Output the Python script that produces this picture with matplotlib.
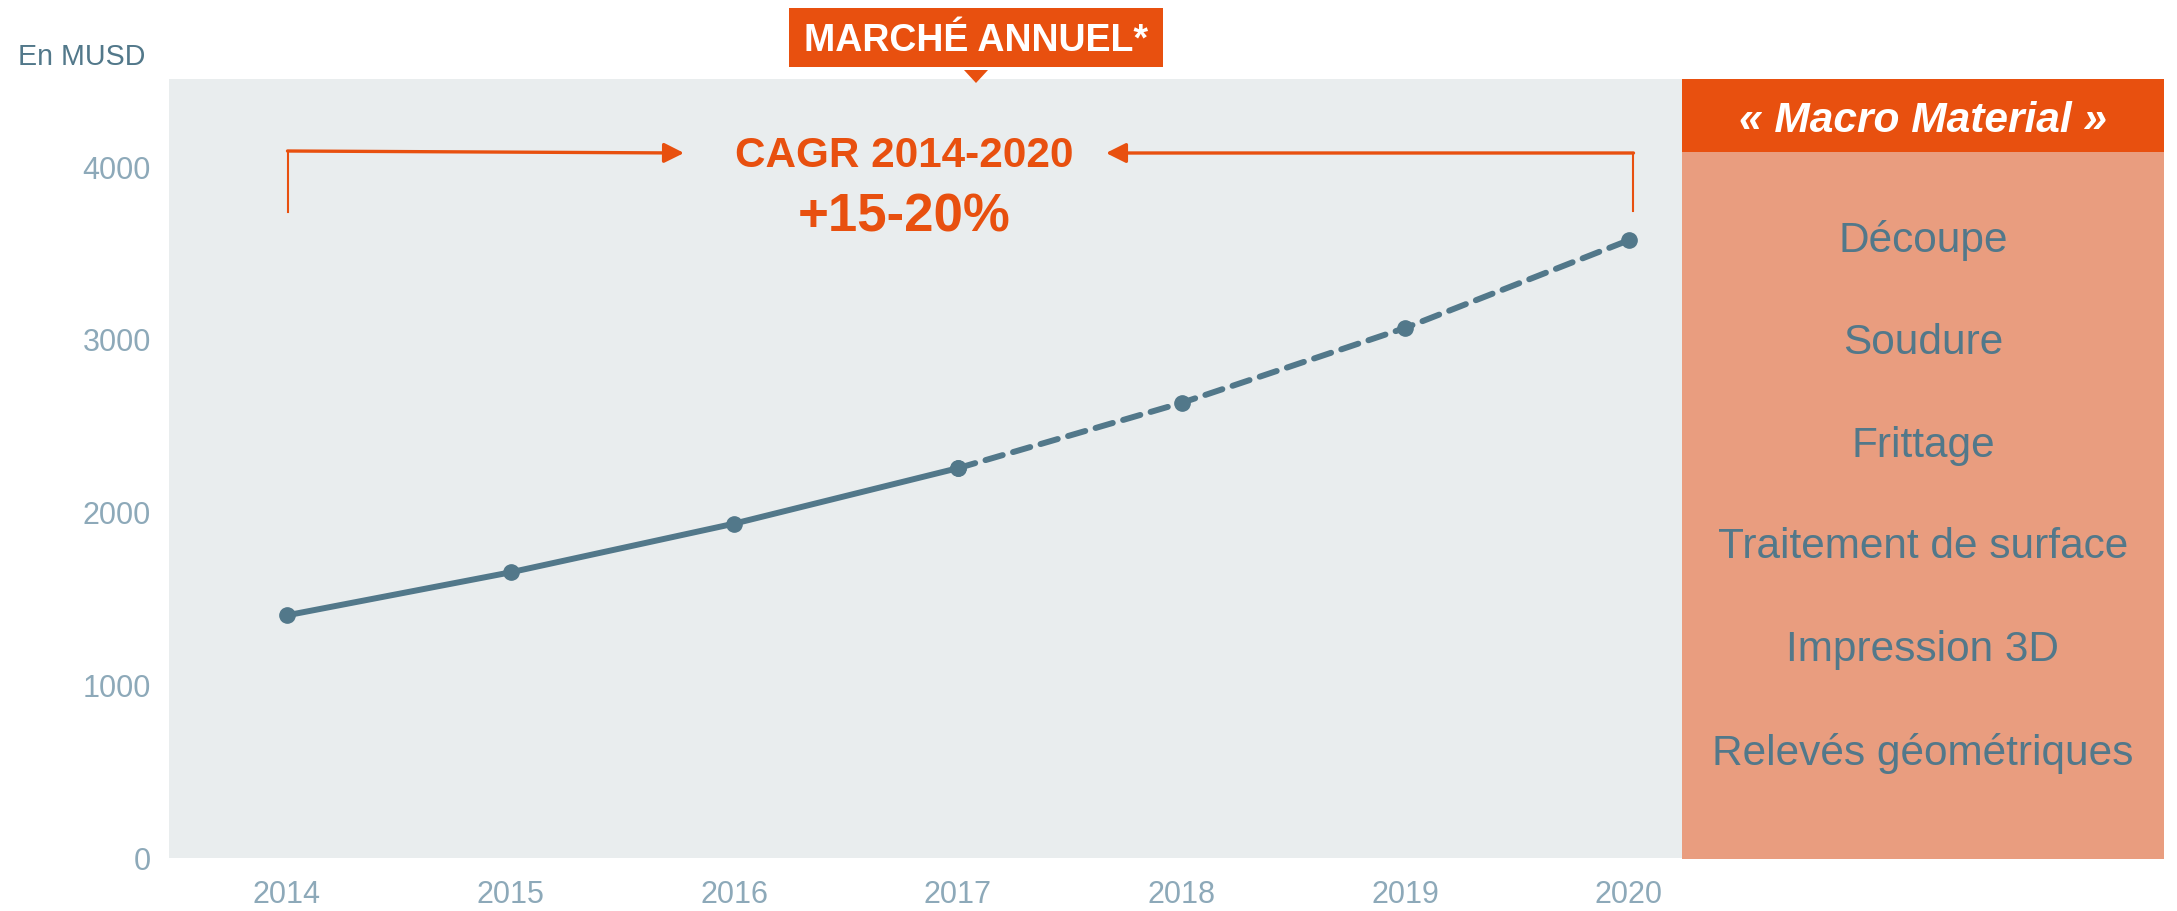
import matplotlib
matplotlib.use("Agg")
import matplotlib.pyplot as plt
from matplotlib.patches import Rectangle, Polygon

plt.rcParams['font.family'] = ['Liberation Sans', 'DejaVu Sans']

# ---- data ----
years = [2014, 2015, 2016, 2017, 2018, 2019, 2020]
values = [1405, 1654, 1936, 2257, 2635, 3069, 3577]
actual_end = 3            # index of last actual (solid) point: 2017
y_ticks = [0, 1000, 2000, 3000, 4000]
unit_label = "En MUSD"
title = "MARCHÉ ANNUEL*"
cagr_label = "CAGR 2014-2020"
cagr_value = "+15-20%"
panel_title = "« Macro Material »"
panel_items = ["Découpe", "Soudure", "Frittage", "Traitement de surface",
               "Impression 3D", "Relevés géométriques"]

# ---- styles ----
W, H = 2177, 911
ORANGE = "#E8500F"
SALMON = "#E99D7F"
GRAY = "#E9EDEE"
LINE = "#52788A"
TICK = "#8DA9B9"
TEXTBLUE = "#52788A"

fig = plt.figure(figsize=(W / 100, H / 100), dpi=100)

def px_rect(x0, y0, x1, y1):
    return [x0 / W, 1 - y1 / H, (x1 - x0) / W, (y1 - y0) / H]

# main axes
ax = fig.add_axes(px_rect(169, 79, 1682, 858))
ax.set_facecolor(GRAY)
ax.plot(years[:actual_end + 1], values[:actual_end + 1], color=LINE, lw=4.3,
        marker='o', ms=11, solid_capstyle='round', zorder=3)
ax.plot(years[actual_end:], values[actual_end:], color=LINE, lw=4.3,
        ls=(0, (3, 1.8)), marker='o', ms=11, dash_capstyle='round', zorder=3)
ax.set_xlim(2013.4725, 2020.237)
ax.set_ylim(0, 4510)
ax.set_xticks(years)
ax.set_xticklabels([str(y) for y in years])
ax.set_yticks(y_ticks)
ax.set_yticklabels([str(v) for v in y_ticks])
ax.tick_params(axis='both', length=0, colors=TICK, labelsize=22)
ax.tick_params(axis='y', pad=13)
ax.tick_params(axis='x', pad=16)
for s in ax.spines.values():
    s.set_visible(False)

# right panel
pax = fig.add_axes(px_rect(1682, 79, 2164, 859))
pax.set_xlim(0, 1)
pax.set_ylim(859, 79)
pax.set_facecolor(SALMON)
pax.add_patch(Rectangle((0, 79), 1, 152 - 79, color=ORANGE, lw=0))
pax.text(0.5, 121, panel_title, ha='center', va='center', color='white',
         fontsize=30.6, fontweight='bold', fontstyle='italic')
item_y = [240, 343, 446, 547, 650, 753]
for yy, t in zip(item_y, panel_items):
    pax.text(0.5, yy, t, ha='center', va='center', color=TEXTBLUE, fontsize=30.5)
pax.set_xticks([]); pax.set_yticks([])
for s in pax.spines.values():
    s.set_visible(False)

# overlay for annotations (pixel coordinates)
ov = fig.add_axes([0, 0, 1, 1], facecolor='none')
ov.set_xlim(0, W)
ov.set_ylim(H, 0)
ov.axis('off')

ov.text(18, 57, unit_label, ha='left', va='center', color=TEXTBLUE, fontsize=20.6)

ov.add_patch(Rectangle((789, 8), 1163 - 789, 67 - 8, color=ORANGE, lw=0))
ov.add_patch(Polygon([(964, 70), (988, 70), (976, 83)], closed=True, color=ORANGE, lw=0))
ov.text(976, 41, title, ha='center', va='center', color='white',
        fontsize=27, fontweight='bold')

ov.text(904, 156, cagr_label, ha='center', va='center', color=ORANGE,
        fontsize=30.4, fontweight='bold')
ov.text(904, 218, cagr_value, ha='center', va='center', color=ORANGE,
        fontsize=38, fontweight='bold')

arrow_style = "-|>,head_length=0.6,head_width=0.3"
ov.plot([288, 288], [212, 151], color=ORANGE, lw=1.5)
ov.annotate("", xy=(684, 153), xytext=(287.5, 151),
            arrowprops=dict(arrowstyle=arrow_style, color=ORANGE, lw=2.4,
                            mutation_scale=20, shrinkA=0, shrinkB=0))
ov.plot([1633, 1633], [211, 153], color=ORANGE, lw=1.5)
ov.annotate("", xy=(1106, 153), xytext=(1633.5, 153),
            arrowprops=dict(arrowstyle=arrow_style, color=ORANGE, lw=2.4,
                            mutation_scale=20, shrinkA=0, shrinkB=0))

fig.savefig("out.png", dpi=100, facecolor='white')
